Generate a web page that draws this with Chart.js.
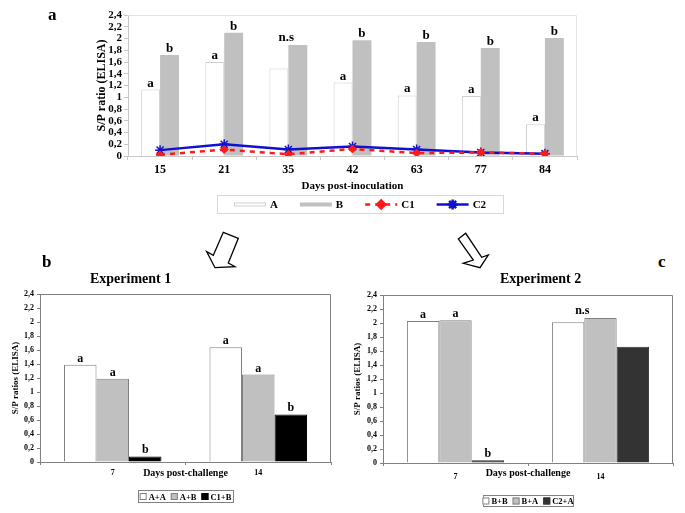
<!DOCTYPE html>
<html lang="en">
<head>
  <meta charset="UTF-8">
  <title>S/P ratio ELISA charts</title>
  <style>
    html, body { margin: 0; padding: 0; background: #fff; }
    body { width: 685px; height: 513px; position: relative; overflow: hidden; }
    .box { position: absolute; }
    .tag {
      position: absolute; line-height: 1; white-space: nowrap;
      font-family: 'Liberation Serif', 'Times New Roman', serif; font-weight: bold; color: #000;
    }
    svg.arrows { position: absolute; left: 0; top: 0; pointer-events: none; }
  </style>
  <script src="https://cdn.jsdelivr.net/npm/chart.js@4.4.1/dist/chart.umd.min.js"></script>
</head>
<body>
<div class="box" style="left:0; top:0; width:685px; height:225px;"><canvas id="chartA"></canvas></div>
<div class="box" style="left:0; top:280px; width:340px; height:233px;"><canvas id="chartB"></canvas></div>
<div class="box" style="left:340px; top:280px; width:345px; height:233px;"><canvas id="chartC"></canvas></div>

<span class="tag" style="left:48px; top:6px; font-size:17px;">a</span>
<span class="tag" style="left:42px; top:253px; font-size:17px;">b</span>
<span class="tag" style="left:658px; top:253px; font-size:17px;">c</span>
<span class="tag" style="left:90px; top:272px; font-size:14px;">Experiment 1</span>
<span class="tag" style="left:500px; top:272px; font-size:14px;">Experiment 2</span>

<svg class="arrows" width="685" height="513">
  <polygon points="223.3,232.3 238.3,238.3 228.3,263 235,266.7 215,267.7 206.7,251.7 213.3,255.3"
           fill="#fff" stroke="#000" stroke-width="1.3" stroke-linejoin="miter"/>
  <polygon points="458.3,239 465.7,233.3 481.7,257.3 488.3,255 480,267.7 463.3,263.3 473.3,260"
           fill="#fff" stroke="#000" stroke-width="1.3" stroke-linejoin="miter"/>
</svg>

<script>
// --- data: post-inoculation (panel a)
var daysInoc = ['15', '21', '35', '42', '63', '77', '84'];
var serA  = [1.13, 1.60, 1.49, 1.25, 1.03, 1.02, 0.54];
var serB  = [1.72, 2.10, 1.89, 1.97, 1.94, 1.84, 2.01];
var serC1 = [0.02, 0.11, 0.03, 0.12, 0.05, 0.06, 0.04];
var serC2 = [0.10, 0.20, 0.11, 0.16, 0.11, 0.06, 0.04];
var lettersA = ['a', 'a', '', 'a', 'a', 'a', 'a'];
var lettersB = ['b', 'b', '', 'b', 'b', 'b', 'b'];
var groupInoc = ['', '', 'n.s', '', '', '', ''];

// --- data: post-challenge (panels b and c)
var daysChal = ['7', '14'];
var exp1AA = [1.39, 1.64];
var exp1AB = [1.19, 1.25];
var exp1C1B = [0.08, 0.68];
var exp1Letters = [['a', 'a'], ['a', 'a'], ['b', 'b']];
var exp2BB = [2.03, 2.01];
var exp2BA = [2.04, 2.07];
var exp2C2A = [0.04, 1.66];
var exp2Letters = [['a', ''], ['a', ''], ['b', '']];
var exp2Group = ['', 'n.s'];

var yTickValues = ['0', '0,2', '0,4', '0,6', '0,8', '1', '1,2', '1,4', '1,6', '1,8', '2', '2,2', '2,4'];

var serif = "'Liberation Serif', 'Times New Roman', serif";

function fmt(v) {
  var r = Math.round(v * 10) / 10;
  return Number.isInteger(r) ? String(r) : r.toFixed(1).replace('.', ',');
}

// light frame on top/right of plot area
var framePlugin = {
  id: 'frame',
  beforeDatasetsDraw: function(chart, args, opts) {
    var a = chart.chartArea, ctx = chart.ctx;
    ctx.save();
    ctx.strokeStyle = opts.color;
    ctx.lineWidth = 1;
    ctx.beginPath();
    ctx.moveTo(Math.round(a.left) + 0.5, Math.round(a.top) + 0.5);
    ctx.lineTo(Math.round(a.right) - 0.5, Math.round(a.top) + 0.5);
    ctx.lineTo(Math.round(a.right) - 0.5, Math.round(a.bottom));
    ctx.stroke();
    ctx.restore();
  }
};

// significance letters above bars
var lettersPlugin = {
  id: 'letters',
  afterDatasetsDraw: function(chart, args, opts) {
    var ctx = chart.ctx;
    ctx.save();
    ctx.font = 'bold ' + opts.size + 'px ' + serif;
    ctx.fillStyle = '#000';
    ctx.textAlign = 'center';
    ctx.textBaseline = 'alphabetic';
    chart.data.datasets.forEach(function(ds, i) {
      if (!ds.letters) return;
      chart.getDatasetMeta(i).data.forEach(function(el, j) {
        if (ds.letters[j]) ctx.fillText(ds.letters[j], el.x, el.y - 3);
      });
    });
    (opts.group || []).forEach(function(txt, j) {
      if (!txt) return;
      var e0 = chart.getDatasetMeta(0).data[j], e1 = chart.getDatasetMeta(1).data[j];
      ctx.fillText(txt, (e0.x + e1.x) / 2 - 2, Math.min(e0.y, e1.y) - 4);
    });
    ctx.restore();
  }
};

// boxed legend drawn under the axis
var boxLegend = {
  id: 'boxLegend',
  afterDraw: function(chart, args, o) {
    var ctx = chart.ctx;
    ctx.save();
    ctx.font = 'bold ' + o.size + 'px ' + serif;
    var dsets = chart.data.datasets;
    var widths = dsets.map(function(ds) { return o.swatchW + o.labelGap + ctx.measureText(ds.label).width; });
    var total = widths.reduce(function(s, w) { return s + w; }, 0) + o.itemGap * (dsets.length - 1);
    ctx.strokeStyle = o.borderColor;
    ctx.lineWidth = 1;
    ctx.strokeRect(o.x + 0.5, o.y + 0.5, o.w, o.h);
    var x = o.x + (o.w - total) / 2;
    var cy = o.y + o.h / 2 + 0.5;
    dsets.forEach(function(ds, i) {
      if (ds.type === 'line') {
        ctx.setLineDash(ds.borderDash || []);
        ctx.strokeStyle = ds.borderColor;
        ctx.lineWidth = ds.borderWidth;
        ctx.beginPath();
        ctx.moveTo(x, cy);
        ctx.lineTo(x + o.swatchW, cy);
        ctx.stroke();
        ctx.setLineDash([]);
        ctx.fillStyle = ds.pointBackgroundColor;
        ctx.strokeStyle = ds.pointBorderColor;
        Chart.helpers.drawPoint(ctx, {pointStyle: ds.pointStyle, radius: ds.pointRadius, borderWidth: ds.pointBorderWidth, rotation: 0}, x + o.swatchW / 2, cy);
      } else {
        var h = o.swatchH;
        ctx.fillStyle = ds.backgroundColor;
        ctx.fillRect(x, cy - h / 2, o.swatchW, h);
        if (ds.borderWidth) {
          ctx.strokeStyle = ds.borderColor;
          ctx.lineWidth = 1;
          ctx.strokeRect(x + 0.5, cy - h / 2 + 0.5, o.swatchW - 1, h - 1);
        }
      }
      ctx.fillStyle = '#000';
      ctx.textAlign = 'left';
      ctx.textBaseline = 'middle';
      ctx.fillText(ds.label, x + o.swatchW + o.labelGap, cy + 1);
      x += widths[i] + o.itemGap;
    });
    ctx.restore();
  }
};

function xScale(c) {
  return {
    grid: {offset: true, drawOnChartArea: false, tickLength: c.tickLen, color: c.axis},
    border: {color: c.axis},
    ticks: {font: {family: serif, size: c.tick, weight: 'bold'}, color: '#000', padding: c.tickPad},
    title: {display: true, text: c.title, color: '#000', font: {family: serif, size: c.titleSize, weight: 'bold'}, padding: {top: 0, bottom: c.titlePad}},
    afterFit: function(s) { s.height = c.height; }
  };
}

function yScale(c) {
  return {
    min: 0, max: 2.4,
    grid: {drawOnChartArea: false, tickLength: c.tickLen, color: c.axis},
    border: {color: c.axis},
    ticks: {stepSize: 0.2, autoSkip: false, callback: fmt, font: {family: serif, size: c.tick, weight: 'bold'}, color: '#000', padding: c.tickPad},
    title: {display: true, text: c.title, color: '#000', font: {family: serif, size: c.titleSize, weight: 'bold'}, padding: 0},
    afterFit: function(s) { s.width = c.width; }
  };
}

// ---- panel a
new Chart(document.getElementById('chartA'), {
  type: 'bar',
  data: {
    labels: daysInoc,
    datasets: [
      {label: 'A', data: serA, backgroundColor: '#ffffff', borderColor: '#cfcfcf', borderWidth: 1, letters: lettersA, order: 1},
      {label: 'B', data: serB, backgroundColor: '#c0c0c0', borderColor: '#c0c0c0', borderWidth: 0, letters: lettersB, order: 1},
      {type: 'line', label: 'C1', data: serC1, borderColor: '#ff1a1a', borderWidth: 2.5, borderDash: [5, 5],
       pointStyle: 'rectRot', pointRadius: 4, pointBackgroundColor: '#ff1a1a', pointBorderColor: '#ff1a1a', pointBorderWidth: 1, order: 0},
      {type: 'line', label: 'C2', data: serC2, borderColor: '#1010d0', borderWidth: 2.5,
       pointStyle: 'star', pointRadius: 5, pointBackgroundColor: '#1010d0', pointBorderColor: '#1010d0', pointBorderWidth: 1.5, order: 0}
    ]
  },
  options: {
    responsive: true, maintainAspectRatio: false, animation: false, events: [],
    layout: {padding: {left: 95, right: 108, top: 15, bottom: 29}},
    datasets: {bar: {barPercentage: 1, categoryPercentage: 0.59}},
    plugins: {
      legend: {display: false}, tooltip: {enabled: false},
      frame: {color: '#e4e4e4'},
      letters: {size: 13, group: groupInoc},
      boxLegend: {x: 217, y: 195, w: 286, h: 18, size: 11, swatchW: 32, swatchH: 4, labelGap: 4, itemGap: 22, borderColor: '#d8d8d8'}
    },
    scales: {
      x: xScale({title: 'Days post-inoculation', tick: 12, titleSize: 11, tickLen: 4, tickPad: 3, titlePad: 3, height: 40, axis: '#c8c8c8'}),
      y: yScale({title: 'S/P ratio (ELISA)', tick: 11, titleSize: 12, tickLen: 4, tickPad: 2, width: 33, axis: '#c8c8c8'})
    }
  },
  plugins: [framePlugin, lettersPlugin, boxLegend]
});

// ---- panel b: experiment 1
new Chart(document.getElementById('chartB'), {
  type: 'bar',
  data: {
    labels: daysChal,
    datasets: [
      {label: 'A+A', data: exp1AA, backgroundColor: '#ffffff', borderColor: '#808080', borderWidth: 1, letters: exp1Letters[0]},
      {label: 'A+B', data: exp1AB, backgroundColor: '#c0c0c0', borderColor: '#808080', borderWidth: 1, letters: exp1Letters[1]},
      {label: 'C1+B', data: exp1C1B, backgroundColor: '#000000', borderColor: '#000000', borderWidth: 1, letters: exp1Letters[2]}
    ]
  },
  options: {
    responsive: true, maintainAspectRatio: false, animation: false, events: [],
    layout: {padding: {left: 10, right: 9, top: 14, bottom: 31}},
    datasets: {bar: {barPercentage: 1, categoryPercentage: 0.67}},
    plugins: {
      legend: {display: false}, tooltip: {enabled: false},
      frame: {color: '#808080'},
      letters: {size: 12},
      boxLegend: {x: 138, y: 210, w: 95, h: 12, size: 8.5, swatchW: 7, swatchH: 7, labelGap: 2, itemGap: 5, borderColor: '#808080'}
    },
    scales: {
      x: xScale({title: 'Days post-challenge', tick: 8, titleSize: 10, tickLen: 3, tickPad: 3, titlePad: 3, height: 20, axis: '#808080'}),
      y: yScale({title: 'S/P ratios (ELISA)', tick: 8, titleSize: 9, tickLen: 3, tickPad: 3, width: 30, axis: '#808080'})
    }
  },
  plugins: [framePlugin, lettersPlugin, boxLegend]
});

// ---- panel c: experiment 2
new Chart(document.getElementById('chartC'), {
  type: 'bar',
  data: {
    labels: daysChal,
    datasets: [
      {label: 'B+B', data: exp2BB, backgroundColor: '#ffffff', borderColor: '#808080', borderWidth: 1, letters: exp2Letters[0]},
      {label: 'B+A', data: exp2BA, backgroundColor: '#c0c0c0', borderColor: '#808080', borderWidth: 1, letters: exp2Letters[1]},
      {label: 'C2+A', data: exp2C2A, backgroundColor: '#333333', borderColor: '#333333', borderWidth: 1, letters: exp2Letters[2]}
    ]
  },
  options: {
    responsive: true, maintainAspectRatio: false, animation: false, events: [],
    layout: {padding: {left: 12, right: 12, top: 15, bottom: 30}},
    datasets: {bar: {barPercentage: 1, categoryPercentage: 0.67}},
    plugins: {
      legend: {display: false}, tooltip: {enabled: false},
      frame: {color: '#808080'},
      letters: {size: 12, group: exp2Group},
      boxLegend: {x: 143, y: 215, w: 90, h: 11, size: 8.5, swatchW: 7, swatchH: 7, labelGap: 2, itemGap: 5, borderColor: '#808080'}
    },
    scales: {
      x: xScale({title: 'Days post-challenge', tick: 8, titleSize: 10, tickLen: 3, tickPad: 6, titlePad: 4, height: 20, axis: '#808080'}),
      y: yScale({title: 'S/P ratios (ELISA)', tick: 8, titleSize: 9, tickLen: 3, tickPad: 3, width: 31, axis: '#808080'})
    }
  },
  plugins: [framePlugin, lettersPlugin, boxLegend]
});
</script>
</body>
</html>
